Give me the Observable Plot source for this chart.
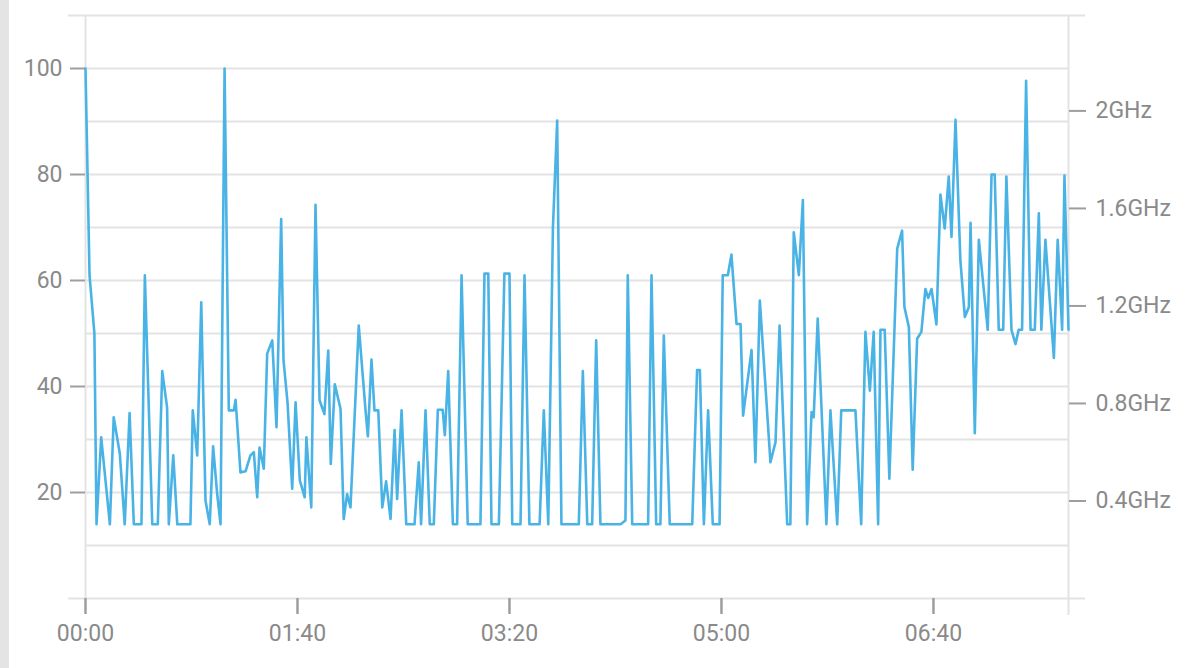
<!DOCTYPE html>
<html>
<head>
<meta charset="utf-8">
<script src="https://cdn.jsdelivr.net/npm/d3@7"></script>
<script src="https://cdn.jsdelivr.net/npm/@observablehq/plot@0.6"></script>
<style>
  html, body { margin: 0; padding: 0; background: #fff; }
  #wrap { position: relative; width: 1200px; height: 668px; overflow: hidden; }
  #edge { position: absolute; left: 0; top: 0; width: 9px; height: 668px; background: #e4e4e4; }
</style>
</head>
<body>
<div id="wrap"><div id="edge"></div></div>
<script>
// time in minutes since 00:00
const minutes = [0,1.9,4.2,5.2,7.4,11.5,13.3,16.2,18.5,20.8,22.8,26.4,28.0,31.5,34.1,36.2,38.5,39.3,41.4,43.3,49.5,50.6,52.7,54.6,56.6,58.6,60.2,62.1,63.7,65.6,67.6,70.0,70.8,73.1,75.5,77.8,79.4,81.0,82.1,84.1,85.7,88.1,90.1,92.3,93.4,95.3,97.5,99.1,101.1,103.4,104.2,106.5,108.5,110.4,112.7,114.5,115.7,117.6,120.3,121.8,123.4,125.0,128.9,132.1,133.2,134.9,136.3,138.1,140.0,141.8,143.9,145.8,147.0,149.1,151.3,155.2,157.2,158.3,160.4,162.4,164.3,166.2,168.5,169.5,171.1,173.3,175.3,177.4,180.3,186.3,188.2,190.0,191.5,195.0,197.6,200.0,201.3,205.2,207.1,209.4,214.2,216.2,218.3,220.5,222.5,224.5,232.7,234.6,236.7,239.0,240.9,242.9,252.4,254.7,255.8,257.9,265.4,267.0,269.2,271.2,272.8,275.6,286.2,288.5,289.8,291.7,293.7,295.9,299.1,300.6,303.0,304.7,307.1,309.0,310.2,314.2,316.0,318.1,323.1,325.5,327.4,331.0,332.5,334.1,336.5,338.4,340.4,342.5,343.5,345.4,349.5,351.4,354.6,356.5,363.2,365.9,367.9,370.0,371.8,373.9,375.0,377.0,379.2,382.9,385.2,386.3,388.4,390.2,392.3,394.3,396.2,397.5,399.1,401.4,403.3,405.3,407.2,408.5,410.4,412.7,414.8,416.7,417.5,419.5,421.4,425.6,427.4,428.9,430.8,432.9,434.4,436.8,438.7,440.2,441.8,443.7,445.8,447.8,449.7,450.9,452.8,456.8,458.6,460.7,461.8,463.7];
// load value (%)
const values = [100,61,50,14,30.4,14,34.2,27.3,14,35,14,14,61,14,14,42.9,36,14,27,14,14,35.5,27,55.9,18.5,14,28.7,19.8,14,100,35.5,35.5,37.5,23.8,24,27,27.6,19.1,28.5,24.5,46.2,48.7,32.3,71.6,45,37,20.7,37,22.3,19.1,30.4,17.2,74.3,37.4,34.8,46.8,25.4,40.4,35.8,15,19.7,17.2,51.5,35.5,30.6,45.1,35.5,35.5,17.2,22.1,15,31.8,18.8,35.5,14,14,25.7,14,35.5,14,14,35.6,35.6,30.8,42.9,14,14,61,14,14,61.3,61.3,14,14,61.3,61.3,14,14,61,14,14,35.5,14,70,90.2,14,14,42.9,14,14,48.7,14,14,14.7,61,14,14,61,14,14,49.6,14,14,43.1,43.1,14,35.5,14,14,61,61,64.9,51.8,51.8,34.5,46.9,25.7,56.2,25.7,29.5,51.5,14,14,69.1,61,75.2,14,35.2,34.2,52.8,14,35.5,14,35.5,35.5,14,50.3,39.2,50.3,14,50.7,50.7,22.6,66,69.4,55,51.2,24.3,49,50.3,58.4,56.7,58.4,51.7,76.2,69.8,79.6,68.2,90.3,63.8,53.1,55,70.9,31.2,67.7,50.7,80,80,50.7,50.7,79.6,50.7,48,50.7,50.7,97.7,50.7,50.7,72.7,50.7,67.7,45.4,67.7,50.7,79.8,50.7];

const xTicks = [0, 100, 200, 300, 400];          // minutes
const xDomain = [0, 463.7];
const yTicks = [20, 40, 60, 80, 100];
const gridValues = [0,10,20,30,40,50,60,70,80,90,100,110];
const yDomain = [0, 110];
const ghzTicks = [0.4, 0.8, 1.2, 1.6, 2.0];
const ghzAt100 = 2.174;   // frequency corresponding to 100%

const data = minutes.map((m, i) => ({t: m, v: values[i]}));
const toPct = g => g / ghzAt100 * 100;
const fmtTime = m => {
  const h = Math.floor(m / 60), mm = Math.round(m % 60);
  return String(h).padStart(2, "0") + ":" + String(mm).padStart(2, "0");
};

const gridColor = "#e3e3e3";
const tickColor = "#9e9e9e";
const textColor = "#8a8a8a";

const chart = Plot.plot({
  width: 1200,
  height: 668,
  marginLeft: 85,
  marginRight: 132,
  marginTop: 15,
  marginBottom: 70,
  style: {fontFamily: "Roboto, 'Noto Sans', sans-serif", fontSize: "23px", background: "transparent", overflow: "visible"},
  x: {domain: xDomain, type: "linear"},
  y: {domain: yDomain},
  marks: [
    Plot.ruleY(gridValues.filter(d => d !== 0 && d !== 110), {stroke: gridColor, strokeWidth: 2}),
    Plot.ruleY([0, 110], {stroke: gridColor, strokeWidth: 2, insetLeft: -17, insetRight: -17}),
    Plot.ruleX([xDomain[0]], {stroke: gridColor, strokeWidth: 2}),
    Plot.ruleX([xDomain[1]], {stroke: gridColor, strokeWidth: 2, insetBottom: -17}),
    Plot.axisY({ticks: yTicks, anchor: "left", tickSize: 15, tickPadding: 8, stroke: tickColor, strokeWidth: 2, fill: textColor, label: null}),
    Plot.axisY({ticks: ghzTicks.map(toPct), anchor: "right", tickSize: 17, tickPadding: 10, stroke: tickColor, strokeWidth: 2, fill: textColor, label: null,
      tickFormat: v => (+(v * ghzAt100 / 100).toFixed(1)) + "GHz"}),
    Plot.axisX({ticks: xTicks, anchor: "bottom", tickSize: 16, tickPadding: 10, stroke: tickColor, strokeWidth: 2.5, fill: textColor, label: null,
      tickFormat: fmtTime}),
    Plot.line(data, {x: "t", y: "v", stroke: "#4ab3e6", strokeWidth: 2.6, strokeLinejoin: "round", strokeLinecap: "round"})
  ]
});

document.getElementById("wrap").prepend(chart);
</script>
</body>
</html>
